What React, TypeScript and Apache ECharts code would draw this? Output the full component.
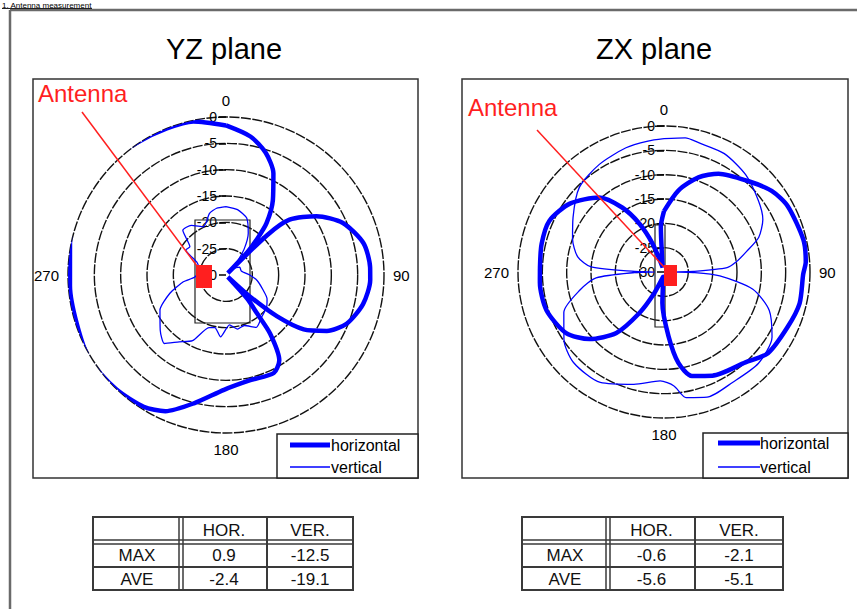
import React, { useEffect, useRef } from 'react';
import * as echarts from 'echarts';

// ---------- data ----------
const angleTickLabels = ['0', '90', '180', '270'];
const radiusMin = -30;
const radiusMax = 0;
const radiusStep = 5;

const yzHorAngles = [0, 10, 18, 25, 32, 38, 41, 43, 44.5, 46, 49, 57, 66, 77, 87, 92, 102, 112, 119, 125, 129, 132, 135, 138, 141, 143, 148, 154, 167, 181, 194, 204, 212, 224, 238, 252, 266, 283, 298, 314, 326, 338, 348, 360];
const yzHorValues = [-1.6, -3.3, -5.6, -8.7, -13.2, -17.5, -21.2, -24, -29.5, -19, -14, -9.5, -5.7, -3.2, -2.6, -2.6, -3.4, -5.3, -8.1, -12, -17.5, -24, -29.5, -24, -20.7, -16.1, -10.9, -9.3, -9.5, -8.2, -4.9, -1.7, -0.5, 0.1, 0.5, -0.2, -0.3, 0.4, 0.7, 0.9, 0.3, 0, -0.2, -1.6];

const yzVerAngles = [0, 10, 20, 28, 35, 42, 50, 60, 75, 90, 100, 112, 120, 128, 140, 150, 160, 168, 176, 185, 192, 198, 207, 215, 222, 230, 242, 252, 261, 266, 280, 294, 302, 308, 316, 325, 335, 345, 352, 360];
const yzVerValues = [-17, -17.4, -18.5, -21, -24, -27, -28, -27, -27, -25.5, -24, -22.4, -21, -20.2, -19.5, -18.5, -19.8, -19.5, -20.5, -18.2, -19.8, -19.5, -16, -14.5, -12.5, -13.7, -15.8, -18.8, -21.8, -24, -25, -23.9, -21, -21.3, -18.2, -18.5, -19.9, -17.9, -17.2, -17];

const zxHorAngles = [0, 10, 20, 29, 43, 53, 62, 77, 86, 91, 103, 114, 128, 138, 155, 165, 171, 176, 183, 190, 197, 205, 211, 218, 228, 238, 252, 265, 272, 283, 294, 306, 319, 327, 333, 338, 344, 350, 356, 360];
const zxHorValues = [-17.5, -13, -9.3, -6.9, -4.5, -2.3, -1.2, -0.6, -0.8, -1.4, -1.4, -2.2, -2.9, -5, -6.5, -7.9, -11.1, -16.8, -23.6, -29, -29, -25, -20.1, -14.1, -9.4, -6.3, -4.6, -4.4, -4.5, -4.2, -4.2, -6.1, -9.7, -14.2, -18.8, -23.7, -29, -28, -20.7, -17.5];

const zxVerAngles = [0, 9, 15, 27, 40, 53, 62, 70, 76, 82, 86, 89, 90, 91, 94, 101, 110, 121, 134, 148, 161, 170, 175, 182, 195, 210, 225, 236, 248, 258, 265, 269, 270, 271, 274, 280, 290, 301, 315, 329, 343, 353, 360];
const zxVerValues = [-2.6, -2.1, -2.5, -2.7, -3.9, -5.7, -7, -9.3, -12.5, -15, -17, -24, -28, -24, -18.5, -11.4, -7, -4.1, -3, -3.3, -2.8, -3.8, -6.5, -7.6, -6.1, -3.8, -3.7, -5.2, -7.8, -12.4, -16, -24, -28, -24, -15, -12, -10, -8.2, -5.4, -4.2, -3.3, -2.9, -2.6];

const seriesNames = ['horizontal', 'vertical'];
const panelTitles = ['YZ plane', 'ZX plane'];
const antennaLabel = 'Antenna';
const headerText = '1. Antenna measurement';

const tableColumns = ['HOR.', 'VER.'];
const tableRows = ['MAX', 'AVE'];
const yzTable = [[0.9, -12.5], [-2.4, -19.1]];
const zxTable = [[-0.6, -2.1], [-5.6, -5.1]];

// ---------- helpers ----------
const FONT = "'Liberation Sans', Arial, Helvetica, sans-serif";
const BLUE = '#0000ff';
const RED = '#ff1f1f';

const toPolar = (angles: number[], values: number[]) => angles.map((a, i) => [values[i], a]);

const txt = (text: string, x: number, y: number, size: number, align = 'left', fill = '#000', va = 'middle', z = 30) => ({
  type: 'text', z,
  style: { text, x, y, fill, fontSize: size, fontFamily: FONT, align, verticalAlign: va, textAlign: align, textVerticalAlign: va },
});
const ln = (x1: number, y1: number, x2: number, y2: number, stroke: string, lw: number, z = 25) => ({
  type: 'line', z, shape: { x1, y1, x2, y2 }, style: { stroke, lineWidth: lw },
});
const rc = (x: number, y: number, w: number, h: number, stroke: string, lw: number, fill = 'none', z = 25) => ({
  type: 'rect', z, shape: { x, y, width: w, height: h }, style: { stroke, lineWidth: lw, fill },
});

function makeTable(xs: number[], ys: number[], values: number[][]) {
  const els: any[] = [];
  const st = '#3a3a3a';
  els.push(rc(xs[0], ys[0], xs[3] - xs[0], ys[3] - ys[0], st, 2, '#fff', 5));
  els.push(ln(xs[1] - 2, ys[0], xs[1] - 2, ys[3], st, 1.5, 6));
  els.push(ln(xs[1] + 2, ys[0], xs[1] + 2, ys[3], st, 1.5, 6));
  els.push(ln(xs[2], ys[0], xs[2], ys[3], st, 2, 6));
  els.push(ln(xs[0], ys[1] - 2, xs[3], ys[1] - 2, st, 1.5, 6));
  els.push(ln(xs[0], ys[1] + 2, xs[3], ys[1] + 2, st, 1.5, 6));
  els.push(ln(xs[0], ys[2], xs[3], ys[2], st, 2, 6));
  const cx = (c: number) => (xs[c] + xs[c + 1]) / 2;
  const cy = (r: number) => (ys[r] + ys[r + 1]) / 2 + 1;
  tableColumns.forEach((c, i) => els.push(txt(c, cx(i + 1), cy(0), 17, 'center', '#111')));
  tableRows.forEach((r, j) => {
    els.push(txt(r, cx(0), cy(j + 1), 17, 'center', '#111'));
    values[j].forEach((v, i) => els.push(txt(String(v), cx(i + 1), cy(j + 1), 17, 'center', '#111')));
  });
  return els;
}

function legendBox(x: number, y: number, w: number, h: number, lx1: number, lx2: number, y1: number, y2: number, tx: number) {
  return [
    rc(x, y, w, h, '#222', 1.5, '#fff', 20),
    ln(lx1, y1, lx2, y1, BLUE, 5, 22),
    ln(lx1, y2, lx2, y2, BLUE, 1.3, 22),
    txt(seriesNames[0], tx, y1, 16, 'left', '#000', 'middle', 23),
    txt(seriesNames[1], tx, y2, 16, 'left', '#000', 'middle', 23),
  ];
}

const angleAxisBase = (polarIndex: number) => ({
  polarIndex,
  type: 'value',
  min: 0,
  max: 360,
  interval: 90,
  startAngle: 90,
  clockwise: true,
  axisLine: { show: false },
  axisTick: { show: false },
  splitLine: { show: false },
  axisLabel: {
    margin: 9,
    color: '#000',
    fontSize: 15,
    fontFamily: FONT,
    formatter: (v: number) => angleTickLabels[v / 90] ?? '',
  },
});

const radiusAxisBase = (polarIndex: number) => ({
  polarIndex,
  type: 'value',
  min: radiusMin,
  max: radiusMax,
  interval: radiusStep,
  axisLine: { show: false },
  axisTick: { show: true, inside: true, length: 7, lineStyle: { color: '#000', width: 1.5 } },
  splitLine: { show: true, lineStyle: { color: '#111', width: 1.4, type: [10, 1.5] } },
  axisLabel: { color: '#000', fontSize: 14, fontFamily: FONT, margin: 9 },
});

export default function App() {
  const ref = useRef<HTMLDivElement>(null);
  useEffect(() => {
    if (!ref.current) return;
    const chart = echarts.init(ref.current, undefined, { renderer: 'svg' });
    const graphics: any[] = [
      // outer document frame
      ln(10, 10, 857, 10, '#6a6a6a', 2.5, 1),
      ln(10, 10, 10, 609, '#6a6a6a', 2.5, 1),
      txt(headerText, 2, 1, 8, 'left', '#000', 'top', 1),
      ln(2, 8.5, 92, 8.5, '#222', 1, 1),
      // panel frames
      rc(33, 79, 385, 399, '#333', 1.5, 'none', 1),
      rc(462, 79, 386, 399, '#333', 1.5, 'none', 1),
      // titles
      txt(panelTitles[0], 224, 49, 29, 'center'),
      txt(panelTitles[1], 654, 49, 29, 'center'),
      // device outlines
      rc(195, 220, 55, 103, '#222', 1.2, 'none', 1),
      rc(655, 225, 10, 102, '#222', 1.2, 'none', 1),
      // antenna markers
      ln(82, 112, 200, 270, RED, 1.5, 30),
      ln(537, 130, 664, 267, RED, 1.5, 30),
      rc(196, 265, 16, 23, 'none', 0, RED, 31),
      rc(664, 265, 13, 21, 'none', 0, RED, 31),
      txt(antennaLabel, 38, 93, 24, 'left', RED),
      txt(antennaLabel, 468, 107, 24, 'left', RED),
      // legends
      ...legendBox(277, 434, 141, 44, 290, 330, 445, 467, 331),
      ...legendBox(703, 433, 145, 45, 718, 760, 443, 467, 760),
      // tables
      ...makeTable([93, 181, 267, 353], [517, 542, 567, 590], yzTable),
      ...makeTable([522, 608, 695, 783], [517, 542, 567, 590], zxTable),
    ];

    const lineSeries = (name: string, polarIndex: number, data: number[][], width: number, smooth: number) => ({
      name,
      type: 'line',
      coordinateSystem: 'polar',
      polarIndex,
      data,
      showSymbol: false,
      symbol: 'none',
      smooth,
      clip: false,
      lineStyle: { color: BLUE, width },
      itemStyle: { color: BLUE },
      z: 3,
    });

    chart.setOption({
      animation: false,
      backgroundColor: '#fff',
      polar: [
        { center: [226, 275], radius: 158 },
        { center: [664, 272], radius: 146 },
      ],
      angleAxis: [angleAxisBase(0), angleAxisBase(1)],
      radiusAxis: [radiusAxisBase(0), radiusAxisBase(1)],
      series: [
        lineSeries(seriesNames[0], 0, toPolar(yzHorAngles, yzHorValues), 4.5, 0.25),
        lineSeries(seriesNames[1], 0, toPolar(yzVerAngles, yzVerValues), 1.3, 0.2),
        lineSeries(seriesNames[0], 1, toPolar(zxHorAngles, zxHorValues), 4.5, 0.25),
        lineSeries(seriesNames[1], 1, toPolar(zxVerAngles, zxVerValues), 1.3, 0.25),
      ],
      graphic: { elements: graphics },
    });
    return () => chart.dispose();
  }, []);
  return <div ref={ref} style={{ position: 'fixed', left: 0, top: 0, width: 857, height: 609 }} />;
}
